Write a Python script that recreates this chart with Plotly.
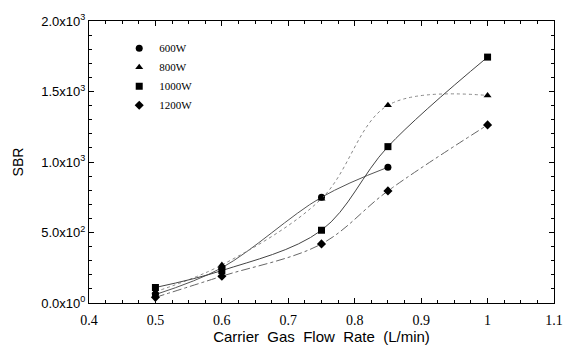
import plotly.graph_objects as go

flow = [0.5, 0.6, 0.75, 0.85, 1.0]
sbr_600 = [60, 250, 750, 963]
sbr_800 = [80, 270, 740, 1402, 1472]
sbr_1000 = [110, 230, 516, 1109, 1744]
sbr_1200 = [40, 190, 419, 795, 1263]

series = [
    ("600W", flow[:4], sbr_600, "circle", dict(color="#555", width=1, dash="solid")),
    ("800W", flow, sbr_800, "triangle-up", dict(color="#888", width=1, dash="dot")),
    ("1000W", flow, sbr_1000, "square", dict(color="#444", width=1, dash="solid")),
    ("1200W", flow, sbr_1200, "diamond", dict(color="#666", width=1, dash="dashdot")),
]

ytickvals = [0, 500, 1000, 1500, 2000]
yticktext = ["0.0x10<sup>0</sup>", "5.0x10<sup>2</sup>", "1.0x10<sup>3</sup>",
             "1.5x10<sup>3</sup>", "2.0x10<sup>3</sup>"]
xtickvals = [0.4, 0.5, 0.6, 0.7, 0.8, 0.9, 1.0, 1.1]
xticktext = ["0.4", "0.5", "0.6", "0.7", "0.8", "0.9", "1", "1.1"]

fig = go.Figure()
for name, xs, ys, sym, line in series:
    fig.add_trace(go.Scatter(x=xs, y=ys, mode="lines+markers", name=name,
                             line=dict(shape="spline", smoothing=1.0, **line),
                             marker=dict(symbol=sym, size=7, color="black"),
                             showlegend=False))
    fig.add_trace(go.Scatter(x=[None], y=[None], mode="markers", name=name,
                             marker=dict(symbol=sym, size=7, color="black")))

fig.update_layout(
    width=575, height=354,
    margin=dict(l=89, r=19, t=16, b=51),
    paper_bgcolor="white", plot_bgcolor="white",
    font=dict(family="Liberation Sans", color="black", size=11),
    legend=dict(x=0.065, y=0.955, xanchor="left", yanchor="top",
                bgcolor="rgba(0,0,0,0)", tracegroupgap=0,
                font=dict(family="Liberation Serif", size=11),
                itemwidth=30),
    xaxis=dict(range=[0.4, 1.1], tickvals=xtickvals, ticktext=xticktext,
               ticks="inside", ticklen=5, tickcolor="black",
               minor=dict(ticks="inside", ticklen=3, dtick=0.025, tickcolor="black"),
               showline=True, linecolor="black", linewidth=1, mirror="ticks",
               showgrid=False, zeroline=False, ticklabelstandoff=4,
               tickfont=dict(family="Liberation Serif", size=14),
               title=dict(text="Carrier  Gas  Flow  Rate  (L/min)", standoff=3,
                          font=dict(family="Liberation Sans", size=15))),
    yaxis=dict(range=[0, 2000], tickvals=ytickvals, ticktext=yticktext,
               ticks="inside", ticklen=5, tickcolor="black",
               minor=dict(ticks="inside", ticklen=3, dtick=100, tickcolor="black"),
               showline=True, linecolor="black", linewidth=1, mirror="ticks",
               showgrid=False, zeroline=False,
               tickfont=dict(family="Liberation Sans", size=13),
               title=dict(text="SBR", standoff=14,
                          font=dict(family="Liberation Sans", size=14))),
)

fig.write_html("out.html")
